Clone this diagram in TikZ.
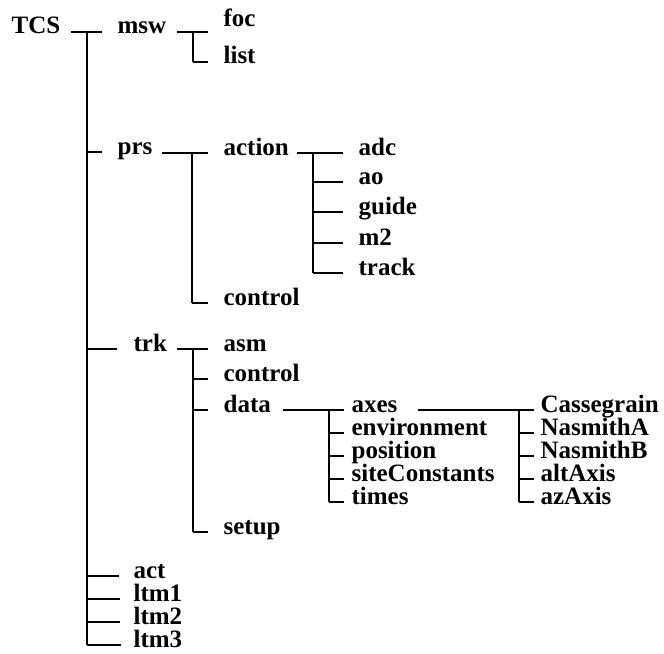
\documentclass[tikz,border=0pt]{standalone}
\usepackage{fontspec}
\setmainfont{Liberation Serif}
% horizontal line on a node's row, between two offsets from its west edge
\newcommand\tick[3]{\draw ([shift={(#2,-2)}]#1.base west) -- ([shift={(#3,-2)}]#1.base west);}
% vertical bar joining the rows of two sibling nodes, at an offset from their west edges
\newcommand\trunk[4]{\draw ([shift={(#3,-2)}]#1.base west) -- ([shift={(#4,-2)}]#2.base west);}
\begin{document}
\begin{tikzpicture}[x=1bp,y=-1bp,
  lbl/.style={anchor=base west, inner sep=0pt, font=\bfseries\fontsize{25bp}{25bp}\selectfont},
  every path/.style={line width=1.2bp}]
\useasboundingbox (0,0) rectangle (664,654);

% root
\node[lbl] (TCS) at (11,34) {TCS};

% first level
\node[lbl] (msw) at (117,34) {msw};
\node[lbl] (prs) at (117,154) {prs};
\node[lbl] (trk) at (133,351) {trk};
\node[lbl] (act) at (133,578) {act};
\node[lbl] (ltm1) at (133,601) {ltm1};
\node[lbl] (ltm2) at (133,624) {ltm2};
\node[lbl] (ltm3) at (133,647) {ltm3};

% msw
\node[lbl] (foc) at (223,34) {\raisebox{7bp}{foc}};
\node[lbl] (list) at (223,64) {list};

% prs
\node[lbl] (action) at (223,155) {action};
\node[lbl] (prsctl) at (223,305) {control};
\node[lbl] (adc) at (358,155) {adc};
\node[lbl] (ao) at (358,184) {ao};
\node[lbl] (guide) at (358,214) {guide};
\node[lbl] (m2) at (358,245) {m2};
\node[lbl] (track) at (358,275) {track};

% trk
\node[lbl] (asm) at (223,351) {asm};
\node[lbl] (trkctl) at (223,381) {control};
\node[lbl] (data) at (223,412) {data};
\node[lbl] (setup) at (223,534) {setup};
\node[lbl] (axes) at (351,412) {axes};
\node[lbl] (env) at (351,435) {environment};
\node[lbl] (pos) at (351,458) {position};
\node[lbl] (site) at (351,481) {siteConstants};
\node[lbl] (times) at (351,504) {times};
\node[lbl] (cass) at (540,412) {Cassegrain};
\node[lbl] (nasA) at (540,435) {NasmithA};
\node[lbl] (nasB) at (540,458) {NasmithB};
\node[lbl] (alt) at (540,481) {altAxis};
\node[lbl] (az) at (540,504) {azAxis};

% TCS branches
\tick{msw}{-46}{-15}
\trunk{msw}{ltm3}{-30}{-46}
\tick{prs}{-31}{-15}
\tick{trk}{-46}{-16}
\tick{act}{-46}{-14}
\tick{ltm1}{-46}{-13}
\tick{ltm2}{-46}{-13}
\tick{ltm3}{-46}{-12}

% msw branches
\tick{foc}{-46}{-15}
\trunk{foc}{list}{-30}{-30}
\tick{list}{-30}{-15}

% prs branches
\tick{action}{-61}{-15}
\trunk{action}{prsctl}{-31}{-31}
\tick{prsctl}{-31}{-15}

% action branches
\tick{adc}{-61}{-15}
\trunk{adc}{track}{-45}{-45}
\tick{ao}{-45}{-15}
\tick{guide}{-45}{-15}
\tick{m2}{-45}{-15}
\tick{track}{-45}{-15}

% trk branches
\tick{asm}{-46}{-15}
\trunk{asm}{setup}{-30}{-30}
\tick{trkctl}{-30}{-15}
\tick{data}{-30}{-15}
\tick{setup}{-30}{-15}

% data branches
\tick{axes}{-68}{-7}
\trunk{axes}{times}{-22}{-22}
\tick{env}{-22}{-7}
\tick{pos}{-22}{-7}
\tick{site}{-22}{-7}
\tick{times}{-22}{-7}

% axes branches
\tick{cass}{-122}{-6}
\trunk{cass}{az}{-21}{-21}
\tick{nasA}{-21}{-6}
\tick{nasB}{-21}{-6}
\tick{alt}{-21}{-6}
\tick{az}{-21}{-6}
\end{tikzpicture}
\end{document}
